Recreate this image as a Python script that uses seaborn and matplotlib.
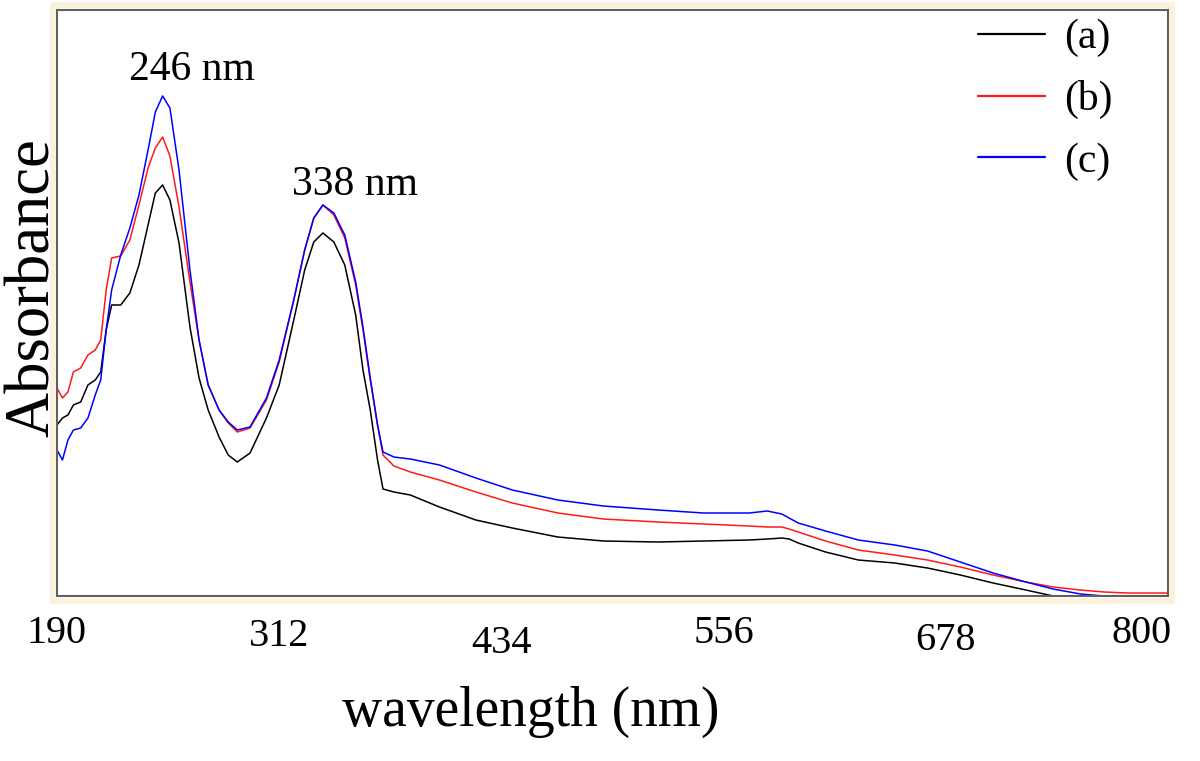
import numpy as np
import pandas as pd
import matplotlib
matplotlib.use("Agg")
import matplotlib.pyplot as plt
import matplotlib.transforms as mtransforms
from matplotlib.lines import Line2D
from matplotlib.patches import Rectangle
import seaborn as sns

# wavelength grid (nm) and absorbance (arbitrary units)
wavelength = [190, 193, 196, 199, 203, 207, 211, 214, 217, 220, 225, 230, 235, 240, 244,
              248, 252, 257, 263, 268, 273, 279, 284, 289, 296, 305, 312, 320, 326, 331,
              336, 342, 348, 354, 358, 362, 366, 369, 375, 384, 400, 420, 440, 465, 490,
              520, 545, 570, 580, 588, 592, 597, 612, 630, 650, 668, 686, 704, 722, 737,
              752, 765, 778, 790, 800]

abs_a = [0.855, 0.890, 0.905, 0.955, 0.970, 1.055, 1.080, 1.120, 1.330, 1.455, 1.455, 1.515,
         1.655, 1.855, 2.015, 2.055, 1.980, 1.765, 1.345, 1.090, 0.930, 0.795, 0.705, 0.670,
         0.715, 0.890, 1.055, 1.380, 1.630, 1.770, 1.815, 1.770, 1.655, 1.405, 1.130, 0.930,
         0.680, 0.535, 0.520, 0.505, 0.445, 0.380, 0.340, 0.295, 0.275, 0.270, 0.275, 0.280,
         0.285, 0.290, 0.285, 0.265, 0.220, 0.180, 0.165, 0.140, 0.105, 0.065, 0.030, 0.000,
         0.000, 0.000, 0.000, 0.000, 0.000]

abs_b = [1.040, 0.990, 1.020, 1.120, 1.140, 1.205, 1.230, 1.280, 1.530, 1.690, 1.700, 1.780,
         1.955, 2.140, 2.240, 2.295, 2.200, 1.945, 1.570, 1.280, 1.055, 0.930, 0.865, 0.820,
         0.840, 0.980, 1.170, 1.480, 1.730, 1.890, 1.955, 1.905, 1.790, 1.555, 1.330, 1.080,
         0.855, 0.705, 0.650, 0.620, 0.580, 0.520, 0.465, 0.415, 0.385, 0.370, 0.360, 0.350,
         0.345, 0.345, 0.335, 0.320, 0.275, 0.230, 0.205, 0.180, 0.145, 0.105, 0.070, 0.045,
         0.030, 0.020, 0.015, 0.015, 0.015]

abs_c = [0.730, 0.680, 0.780, 0.830, 0.840, 0.890, 1.005, 1.080, 1.330, 1.530, 1.705, 1.840,
         2.005, 2.230, 2.420, 2.500, 2.440, 2.130, 1.630, 1.280, 1.055, 0.930, 0.870, 0.830,
         0.845, 0.990, 1.180, 1.480, 1.730, 1.890, 1.955, 1.915, 1.805, 1.570, 1.345, 1.090,
         0.855, 0.720, 0.695, 0.685, 0.655, 0.590, 0.530, 0.480, 0.450, 0.430, 0.415, 0.415,
         0.425, 0.410, 0.390, 0.365, 0.325, 0.280, 0.255, 0.225, 0.170, 0.115, 0.070, 0.035,
         0.010, 0.000, 0.000, 0.000, 0.000]

series_names = ["(a)", "(b)", "(c)"]
series_colors = ["black", "#ff1a1a", "#0000ff"]
tick_values = [190, 312, 434, 556, 678, 800]
peak_labels = ["246 nm", "338 nm"]

df = pd.DataFrame({
    "wavelength": wavelength * 3,
    "absorbance": abs_a + abs_b + abs_c,
    "sample": [n for n in series_names for _ in wavelength],
})

sns.set_style("white")
plt.rcParams["font.family"] = ["Liberation Serif", "DejaVu Serif"]
plt.rcParams["text.color"] = "black"
plt.rcParams["axes.labelcolor"] = "black"
plt.rcParams["xtick.color"] = "black"

fig = plt.figure(figsize=(12, 7.61), dpi=100)
ax = fig.add_axes([0.0475, 0.2168, 0.9258, 0.7701])

# pale cream outline around the plot frame
fig.patches.append(Rectangle((0.0475 - 0.003, 0.2168 - 0.006), 0.9258 + 0.006, 0.7701 + 0.012,
                             transform=fig.transFigure, facecolor="none",
                             edgecolor="#fbf0da", lw=4, zorder=0))

sns.lineplot(data=df, x="wavelength", y="absorbance", hue="sample",
             palette=dict(zip(series_names, series_colors)),
             estimator=None, sort=False, lw=1.1, legend=False, ax=ax)

ax.set_xlim(190, 800)
ax.set_ylim(0, 2.93)
ax.set_yticks([])
ax.set_xticks(tick_values)
ax.set_xticklabels([str(t) for t in tick_values], fontsize=29)
ax.tick_params(axis="x", length=0, pad=14)
for sp in ax.spines.values():
    sp.set_color("#606060")
    sp.set_linewidth(1.5)

# staggered tick labels like the original
offsets = [0, 3, 10, 0, 7, 0]
for lab, off in zip(ax.get_xticklabels(), offsets):
    lab.set_transform(lab.get_transform() +
                      mtransforms.ScaledTranslation(0, -off / 100, fig.dpi_scale_trans))
ax.get_xticklabels()[-1].set_horizontalalignment("right")
ax.get_xticklabels()[-1].set_transform(ax.get_xticklabels()[-1].get_transform() +
                                       mtransforms.ScaledTranslation(0.04, 0, fig.dpi_scale_trans))

ax.set_xlabel("wavelength (nm)", fontsize=40)
ax.xaxis.set_label_coords(0.426, -0.153)
ax.set_ylabel("Absorbance", fontsize=45)
ax.yaxis.set_label_coords(0.005, 0.526)

ax.text(264, 2.63, peak_labels[0], fontsize=30, ha="center", va="center")
ax.text(353.5, 2.055, peak_labels[1], fontsize=30, ha="center", va="center")

handles = [Line2D([], [], color=c, lw=1.6) for c in series_colors]
ax.legend(handles, series_names, loc="upper right", bbox_to_anchor=(0.95, 0.985),
          frameon=False, fontsize=30, handlelength=1.6, handletextpad=0.45,
          labelspacing=0.55, borderpad=0.0, borderaxespad=0.0)

fig.savefig("out.png", dpi=100)
